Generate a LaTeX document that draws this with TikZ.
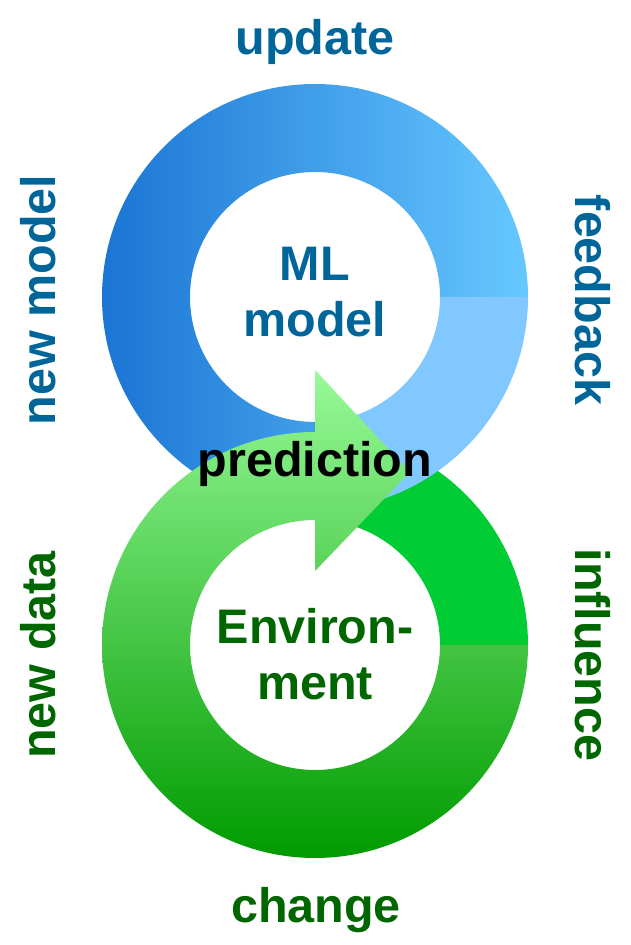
\documentclass[tikz,border=0pt]{standalone}
\usepackage{fontspec}
\setmainfont{Liberation Sans}
\definecolor{blueDark}{RGB}{26,117,212}
\definecolor{blueLight}{RGB}{102,200,255}
\definecolor{blueFlat}{RGB}{128,200,255}
\definecolor{greenTop}{RGB}{152,250,152}
\definecolor{greenBottom}{RGB}{0,155,0}
\definecolor{greenFlat}{RGB}{0,204,51}
\definecolor{blueText}{RGB}{0,102,153}
\definecolor{greenText}{RGB}{0,102,0}
\begin{document}
\begin{tikzpicture}[
    x=1pt,y=1pt,
    lbl/.style={font=\fontsize{48.5}{56}\selectfont\bfseries, inner sep=0pt},
    bluelbl/.style={lbl, text=blueText},
    greenlbl/.style={lbl, text=greenText}
]
    \useasboundingbox (0,0) rectangle (631,945);

    \coordinate (mlc) at (315,648);
    \coordinate (envc) at (315,300);
    \coordinate (tip) at (410,473);

    % flat green quarter, lies under the blue ring
    \fill[greenFlat] ([shift={(envc)}]0:213) arc[start angle=0,end angle=90,radius=213]
        -- ([shift={(envc)}]90:125) arc[start angle=90,end angle=0,radius=125] -- cycle;

    % blue ring
    \shade[left color=blueDark, right color=blueLight]
        ([shift={(mlc)}]0:213) arc[start angle=0,end angle=270,radius=213]
        -- ([shift={(mlc)}]270:125) arc[start angle=270,end angle=0,radius=125] -- cycle;
    \fill[blueFlat] ([shift={(mlc)}]270:213) arc[start angle=270,end angle=360,radius=213]
        -- ([shift={(mlc)}]0:125) arc[start angle=360,end angle=270,radius=125] -- cycle;

    % green ring with the arrow head
    \shade[top color=greenTop, bottom color=greenBottom]
        ([shift={(envc)}]90:213) arc[start angle=90,end angle=360,radius=213]
        -- ([shift={(envc)}]0:125) arc[start angle=360,end angle=90,radius=125]
        -- (315,374) -- (tip) -- (315,575) -- cycle;

    \node[bluelbl, anchor=base] (update) at (315,890) {update};
    \node[bluelbl, anchor=base, rotate=90] (newmodel) at (55,645) {new model};
    \node[bluelbl, anchor=base, rotate=-90] (feedback) at (575,645) {feedback};
    \node[bluelbl, align=center, anchor=base] (ml) at (315,608) {ML\\model};

    \node[lbl, anchor=base] (prediction) at (315,468) {prediction};

    \node[greenlbl, anchor=base, rotate=90] (newdata) at (55,290) {new data};
    \node[greenlbl, anchor=base, rotate=-90] (influence) at (575,290) {influence};
    \node[greenlbl, align=center, anchor=base] (env) at (315,245) {Environ-\\ment};
    \node[greenlbl, anchor=base] (change) at (316,23) {change};
\end{tikzpicture}
\end{document}
